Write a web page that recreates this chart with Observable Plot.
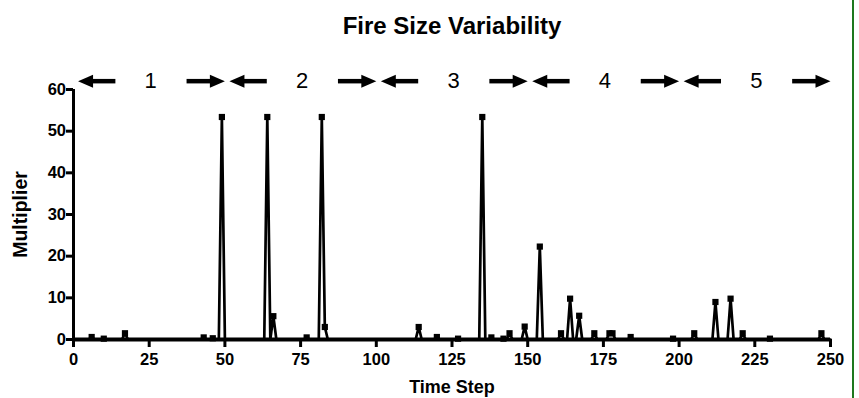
<!DOCTYPE html>
<html>
<head>
<meta charset="utf-8">
<script src="https://cdn.jsdelivr.net/npm/d3@7"></script>
<script src="https://cdn.jsdelivr.net/npm/@observablehq/plot@0.6"></script>
<style>
  body { margin: 0; background: #fff; }
  #wrap { position: relative; width: 859px; height: 398px; overflow: hidden; }
  #edge { position: absolute; left: 852px; top: 0; width: 2px; height: 398px; background: #1e781e; }
</style>
</head>
<body>
<div id="wrap"><div id="chart"></div><div id="edge"></div></div>
<script>
// Time steps (x) and multiplier values (y)
const steps = [0,5,6,7,9,10,11,16,17,18,42,43,44,45,46,47,48,49,50,63,64,65,66,67,76,77,78,81,82,83,84,
  113,114,115,119,120,121,126,127,128,134,135,136,137,138,139,141,142,143,144,145,148,149,150,153,154,155,
  160,161,162,163,164,165,166,167,168,171,172,173,176,177,178,179,183,184,185,197,198,199,204,205,206,
  211,212,213,216,217,218,220,221,222,229,230,231,246,247,248,250];
const multiplier = [0,0,0.6,0,0,0.2,0,0,1.5,0,0,0.5,0,0,0.3,0,0,53.4,0,0,53.4,0,5.6,0,0,0.5,0,0,53.4,3.0,0,
  0,3.0,0,0,0.6,0,0,0.2,0,0,53.4,0,0,0.5,0,0,0.2,0,1.5,0,0,3.1,0,0,22.3,0,
  0,1.5,0,0,9.8,0,0,5.7,0,0,1.5,0,0,1.5,1.5,0,0,0.6,0,0,0.2,0,0,1.5,0,
  0,9.0,0,0,9.8,0,0,1.5,0,0,0.2,0,0,1.5,0,0];

const periodStarts = [0, 50, 100, 150, 200];
const periodLabels = ["1", "2", "3", "4", "5"];
const xTicks = [0, 25, 50, 75, 100, 125, 150, 175, 200, 225, 250];
const yTicks = [0, 10, 20, 30, 40, 50, 60];

const data = steps.map((t, i) => ({t, v: multiplier[i]}));
const arrowY = 62;
const arrows = periodStarts.flatMap(s => [
  {tip: s + 1.5, tail: s + 14, dir: "left"},
  {tip: s + 50, tail: s + 37.5, dir: "right"}
]);
const labels = periodStarts.map((s, i) => ({x: s + 25.5, label: periodLabels[i]}));

const head = {
  draw(ctx) {
    ctx.moveTo(0, 0);
    ctx.lineTo(-15, -6.5);
    ctx.lineTo(-15, 6.5);
    ctx.closePath();
  }
};

const font = "'Liberation Sans', Arial, Helvetica, sans-serif";

const chart = Plot.plot({
  width: 859,
  height: 398,
  marginLeft: 73,
  marginRight: 29,
  marginTop: 89,
  marginBottom: 59,
  x: {domain: [0, 250]},
  y: {domain: [0, 60]},
  style: {fontFamily: font, color: "black", background: "white", overflow: "visible"},
  marks: [
    Plot.axisX({ticks: xTicks, tickSize: 8, strokeWidth: 3, tickFormat: () => "", label: null}),
    Plot.axisY({ticks: yTicks, tickSize: 7, strokeWidth: 3, tickFormat: () => "", label: null}),
    Plot.text(xTicks, {x: d => d, frameAnchor: "bottom", lineAnchor: "middle", textAnchor: "middle", dy: 20, fontSize: 16.5, fontWeight: "bold"}),
    Plot.text(yTicks, {y: d => d, frameAnchor: "left", lineAnchor: "middle", textAnchor: "end", dx: -7.5, fontSize: 16.5, fontWeight: "bold"}),
    Plot.ruleX([0], {strokeWidth: 3, stroke: "black"}),
    Plot.line(data, {x: "t", y: "v", stroke: "black", strokeWidth: 2.7}),
    Plot.dot(data.filter(d => d.v > 0), {x: "t", y: "v", symbol: "square", r: 3.5, fill: "black", stroke: "none"}),
    Plot.ruleY([0], {strokeWidth: 4, stroke: "black"}),
    // period arrows
    Plot.ruleY(arrows, {x1: "tail", x2: d => d.dir === "right" ? d.tip - 3 : d.tip + 3, y: arrowY, strokeWidth: 4.5, stroke: "black"}),
    Plot.dot(arrows.filter(d => d.dir === "right"), {x: "tip", y: arrowY, symbol: head, r: 5, fill: "black", stroke: "none"}),
    Plot.dot(arrows.filter(d => d.dir === "left"), {x: "tip", y: arrowY, symbol: head, r: 5, rotate: 180, fill: "black", stroke: "none"}),
    Plot.text(labels, {x: "x", y: arrowY, text: "label", fontSize: 22, fontWeight: "normal", lineAnchor: "middle"}),
    // titles
    Plot.text(["Fire Size Variability"], {frameAnchor: "top", textAnchor: "middle", lineAnchor: "middle", dy: -63, fontSize: 24, fontWeight: "bold"}),
    Plot.text(["Time Step"], {frameAnchor: "bottom", textAnchor: "middle", lineAnchor: "middle", dy: 48, fontSize: 18, fontWeight: "bold"}),
    Plot.text(["Multiplier"], {frameAnchor: "left", textAnchor: "middle", lineAnchor: "middle", dx: -53, rotate: -90, fontSize: 19.5, fontWeight: "bold"})
  ]
});
document.getElementById("chart").appendChild(chart);
</script>
</body>
</html>
